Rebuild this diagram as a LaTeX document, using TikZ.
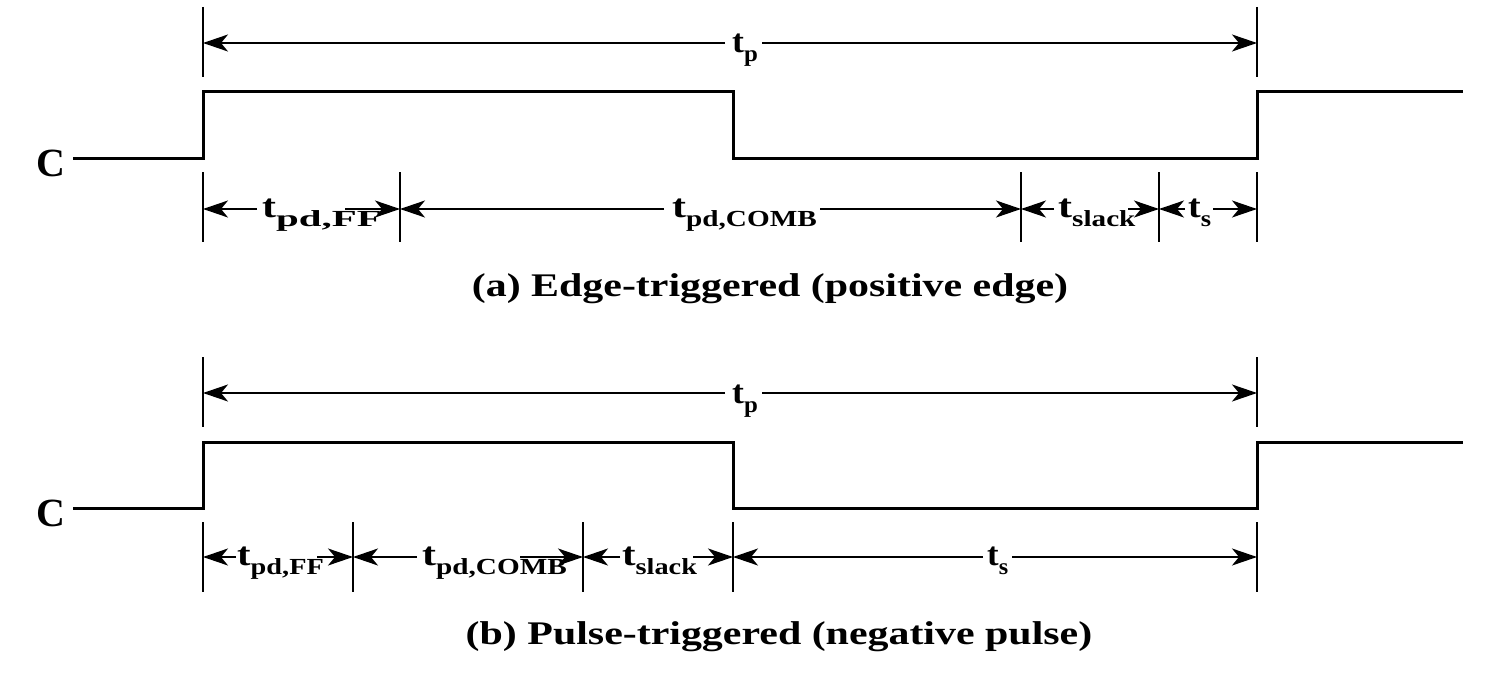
\documentclass[tikz,border=0pt]{standalone}
\usepackage{fontspec}
\setmainfont{Liberation Serif}
\usetikzlibrary{arrows.meta}
% #1 horizontal stretch, #2 main letter, #3 subscript
\newcommand{\lbl}[3]{\scalebox{#1}[1]{\fontsize{33}{36}\selectfont\bfseries #2\raisebox{-9pt}{\fontsize{23}{25}\selectfont #3}}}
\newcommand{\wide}[1]{\scalebox{1.27}[1]{#1}}
\begin{document}
\begin{tikzpicture}[x=1pt,y=-1pt,
  wave/.style={line width=3pt,line join=miter},
  tick/.style={line width=1.8pt},
  dim/.style={line width=1.8pt,-{Stealth[length=25pt,width=17pt,inset=7pt]}},
  tlabel/.style={inner sep=0pt,anchor=base west},
  captext/.style={inner sep=0pt,anchor=base,font=\fontsize{33}{36}\selectfont\bfseries},
  clabel/.style={inner sep=0pt,anchor=base,font=\fontsize{40}{44}\selectfont\bfseries}]
\useasboundingbox (0,0) rectangle (1490,674);

% ================= (a) =================
\node[clabel] (Ca) at (51,176) {C};
\coordinate (wa0) at (73,158);
\coordinate (wa1) at (1463,92);
\draw[wave] (wa0) -- (203,158) -- (203,92) -- (733,92) -- (733,158) -- (1257,158) -- (1257,92) -- (wa1);

% top ticks
\coordinate (ta1t) at (203,7);  \coordinate (ta1b) at (203,77);
\coordinate (ta2t) at (1257,7); \coordinate (ta2b) at (1257,77);
\draw[tick] (ta1t) -- (ta1b);
\draw[tick] (ta2t) -- (ta2b);
\coordinate (pa1) at (203,43); \coordinate (pa2) at (1257,43);
\node[tlabel] (tpa) at (732,53) {\lbl{1.08}{t}{p}};
\coordinate (pal) at (725,43); \coordinate (par) at (762,43);
\draw[dim] (pal) -- (pa1);
\draw[dim] (par) -- (pa2);

% lower ticks
\foreach \n/\x in {1/203,2/400,3/1021,4/1159,5/1257}{
  \coordinate (la\n t) at (\x,172); \coordinate (la\n b) at (\x,242);
  \coordinate (la\n) at (\x,209);
  \draw[tick] (la\n t) -- (la\n b);
}
\node[tlabel] (aFF) at (262,217) {\lbl{1.27}{t}{\scalebox{1.4}[1]{pd,FF}}};
\coordinate (aFFl) at (257,209); \coordinate (aFFr) at (345,209);
\draw[dim] (aFFl) -- (la1);
\draw[dim] (aFFr) -- (la2);
\node[tlabel] (aCO) at (672,217) {\lbl{1.27}{t}{pd,COMB}};
\coordinate (aCOl) at (664,209); \coordinate (aCOr) at (820,209);
\draw[dim] (aCOl) -- (la2);
\draw[dim] (aCOr) -- (la3);
\node[tlabel] (aSL) at (1058,217) {\lbl{1.27}{t}{slack}};
\coordinate (aSLl) at (1054,209); \coordinate (aSLr) at (1128,209);
\draw[dim] (aSLl) -- (la3);
\draw[dim] (aSLr) -- (la4);
\node[tlabel] (aS) at (1188,217) {\lbl{1.15}{t}{s}};
\coordinate (aSl) at (1185,209); \coordinate (aSr) at (1213,209);
\draw[dim] (aSl) -- (la4);
\draw[dim] (aSr) -- (la5);

\node[captext] (capa) at (770,296) {\wide{(a) Edge-triggered (positive edge)}};

% ================= (b) =================
\node[clabel] (Cb) at (51,526) {C};
\coordinate (wb0) at (73,508);
\coordinate (wb1) at (1463,442);
\draw[wave] (wb0) -- (203,508) -- (203,442) -- (733,442) -- (733,508) -- (1257,508) -- (1257,442) -- (wb1);

\coordinate (tb1t) at (203,357);  \coordinate (tb1b) at (203,427);
\coordinate (tb2t) at (1257,357); \coordinate (tb2b) at (1257,427);
\draw[tick] (tb1t) -- (tb1b);
\draw[tick] (tb2t) -- (tb2b);
\coordinate (pb1) at (203,393); \coordinate (pb2) at (1257,393);
\node[tlabel] (tpb) at (732,403) {\lbl{1.08}{t}{p}};
\coordinate (pbl) at (725,393); \coordinate (pbr) at (762,393);
\draw[dim] (pbl) -- (pb1);
\draw[dim] (pbr) -- (pb2);

\foreach \n/\x in {1/203,2/353,3/583,4/733,5/1257}{
  \coordinate (lb\n t) at (\x,522); \coordinate (lb\n b) at (\x,592);
  \coordinate (lb\n) at (\x,557);
  \draw[tick] (lb\n t) -- (lb\n b);
}
\node[tlabel] (bFF) at (237,565) {\lbl{1.23}{t}{pd,FF}};
\coordinate (bFFl) at (236,557); \coordinate (bFFr) at (317,557);
\draw[dim] (bFFl) -- (lb1);
\draw[dim] (bFFr) -- (lb2);
\node[tlabel] (bCO) at (422,565) {\lbl{1.27}{t}{pd,COMB}};
\coordinate (bCOl) at (417,557); \coordinate (bCOr) at (520,557);
\draw[dim] (bCOl) -- (lb2);
\draw[dim] (bCOr) -- (lb3);
\node[tlabel] (bSL) at (622,565) {\lbl{1.23}{t}{slack}};
\coordinate (bSLl) at (620,557); \coordinate (bSLr) at (693,557);
\draw[dim] (bSLl) -- (lb3);
\draw[dim] (bSLr) -- (lb4);
\node[tlabel] (bS) at (987,565) {\lbl{1.05}{t}{s}};
\coordinate (bSl) at (983,557); \coordinate (bSr) at (1012,557);
\draw[dim] (bSl) -- (lb4);
\draw[dim] (bSr) -- (lb5);

\node[captext] (capb) at (779,644) {\wide{(b) Pulse-triggered (negative pulse)}};
\end{tikzpicture}
\end{document}
